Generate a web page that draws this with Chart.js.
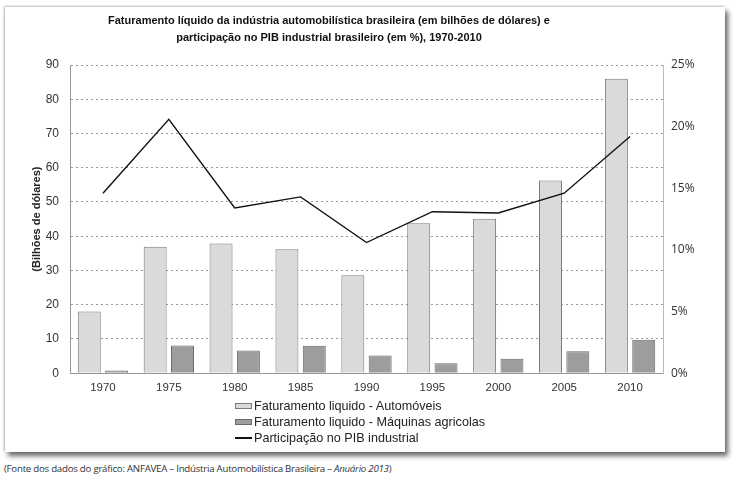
<!DOCTYPE html>
<html>
<head>
<meta charset="utf-8">
<script src="https://cdn.jsdelivr.net/npm/chart.js@4/dist/chart.umd.min.js"></script>
<style>
  body { margin: 0; background: #fff; width: 734px; height: 481px; overflow: hidden; position: relative; }
  .frame {
    position: absolute; left: 5px; top: 7px; width: 720px; height: 445px;
    background: #fff; box-shadow: 3px 4px 5px rgba(0,0,0,0.6), -1px -1px 2px rgba(0,0,0,0.25);
  }
  #chart { position: absolute; left: 0; top: 0; }
  .title {
    position: absolute; left: 29px; width: 600px; top: 12px; text-align: center;
    font-family: "Liberation Sans", Arial, sans-serif; font-size: 11px; font-weight: bold;
    line-height: 17px; color: #111;
  }
  .legend {
    position: absolute; left: 235px; top: 398px;
    font-family: "Liberation Sans", Arial, sans-serif; font-size: 12.6px; color: #222;
  }
  .legend div { height: 16px; line-height: 16px; display: flex; align-items: center; }
  .legend span.sw { display: inline-block; width: 17px; margin-right: 2px; box-sizing: border-box; }
  .caption {
    position: absolute; left: 4px; top: 462px;
    font-family: "Open Sans", sans-serif; font-size: 9.7px; color: #333; letter-spacing: -0.25px;
  }
</style>
</head>
<body>
<div class="frame"></div>
<canvas id="chart" width="734" height="403"></canvas>
<div class="title" id="title"></div>
<div class="legend" id="legend"></div>
<div class="caption">(Fonte dos dados do gráfico: ANFAVEA – Indústria Automobilística Brasileira – <i>Anuário 2013</i>)</div>
<script>
const years = ['1970', '1975', '1980', '1985', '1990', '1995', '2000', '2005', '2010'];
const autoValues = [18, 36.9, 37.9, 36.2, 28.6, 43.8, 45.1, 56.3, 86];
const machineValues = [0.8, 8.1, 6.6, 8.0, 5.2, 2.9, 4.2, 6.4, 9.8];
const pibShare = [14.6, 20.6, 13.4, 14.3, 10.6, 13.1, 13.0, 14.6, 19.2];
const titleLines = [
  'Faturamento líquido da indústria automobilística brasileira (em bilhões de dólares) e',
  'participação no PIB industrial brasileiro (em %), 1970-2010'
];

const font = "'Liberation Sans', Arial, sans-serif";

document.getElementById('title').innerHTML = titleLines.join('<br>');

const chart = new Chart(document.getElementById('chart'), {
  data: {
    labels: years,
    datasets: [
      {
        type: 'line', label: 'Participação no PIB industrial', data: pibShare, yAxisID: 'y2',
        borderColor: '#111', borderWidth: 1.4, pointRadius: 0, tension: 0, order: 0
      },
      {
        type: 'bar', label: 'Faturamento liquido - Automóveis', data: autoValues, yAxisID: 'y',
        backgroundColor: '#d9dadb', borderColor: '#7a7a7a', borderWidth: 1, order: 1,
        categoryPercentage: 0.83, barPercentage: 0.84
      },
      {
        type: 'bar', label: 'Faturamento liquido - Máquinas agricolas', data: machineValues, yAxisID: 'y',
        backgroundColor: '#9c9d9f', borderColor: '#6a6a6a', borderWidth: 1, order: 1,
        categoryPercentage: 0.83, barPercentage: 0.84
      }
    ]
  },
  options: {
    responsive: false,
    animation: false,
    layout: { padding: { left: 30, right: 30, top: 65, bottom: 8 } },
    plugins: {
      legend: { display: false },
      tooltip: { enabled: false }
    },
    scales: {
      x: {
        grid: { display: false },
        border: { color: '#999' },
        ticks: { color: '#333', font: { family: font, size: 11.5 }, padding: 0 }
      },
      y: {
        position: 'left', min: 0, max: 90,
        afterFit: (s) => { s.width = 40; },
        ticks: { stepSize: 10, color: '#333', font: { family: font, size: 12 }, padding: 11 },
        grid: { color: '#999', drawTicks: false },
        border: { color: '#999', dash: [2, 3] },
        title: { display: true, text: '(Bilhões de dólares)', color: '#222', font: { family: font, size: 11, weight: 'bold' }, padding: 0 }
      },
      y2: {
        position: 'right', min: 0, max: 25,
        afterFit: (s) => { s.width = 41; },
        ticks: { stepSize: 5, color: '#333', font: { family: "'Open Sans', sans-serif", size: 12 }, padding: 8,
          callback: (v) => v + '%' },
        grid: { display: false, drawTicks: false },
        border: { color: '#bbb' }
      }
    }
  }
});

// legend stacked vertically, built from the datasets
const legend = document.getElementById('legend');
[1, 2, 0].forEach((i) => {
  const ds = chart.data.datasets[i];
  const row = document.createElement('div');
  const sw = document.createElement('span');
  sw.className = 'sw';
  if (ds.type === 'bar') {
    sw.style.height = '6px';
    sw.style.background = ds.backgroundColor;
    sw.style.border = '1px solid ' + ds.borderColor;
  } else {
    sw.style.height = '1.5px';
    sw.style.background = ds.borderColor;
  }
  row.appendChild(sw);
  row.appendChild(document.createTextNode(ds.label));
  legend.appendChild(row);
});
</script>
</body>
</html>
